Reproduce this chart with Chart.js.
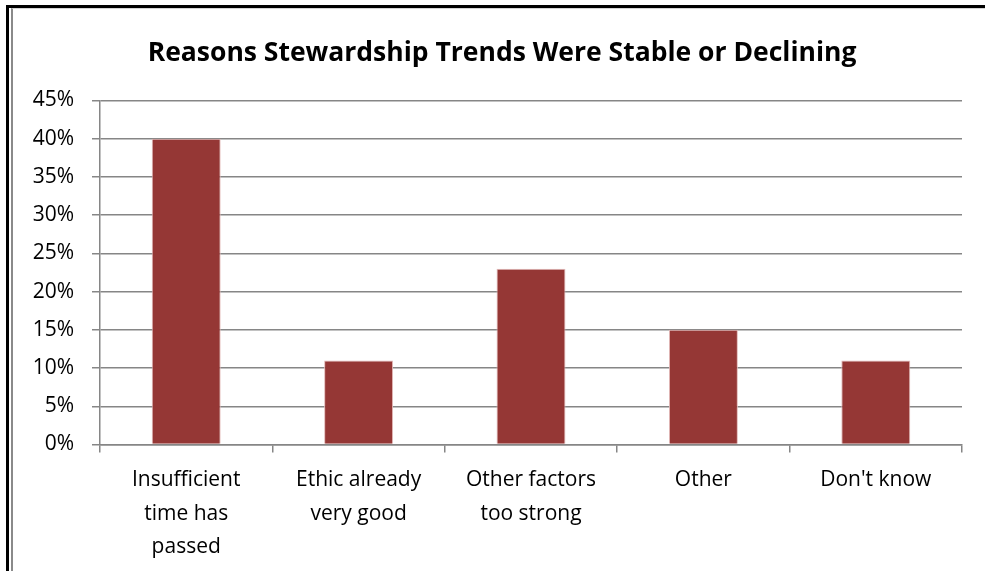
<!DOCTYPE html>
<html>
<head>
<meta charset="utf-8">
<script src="https://cdn.jsdelivr.net/npm/chart.js@4"></script>
<style>
  html, body { margin: 0; padding: 0; background: #fff; }
  body { width: 985px; height: 571px; position: relative; overflow: hidden; }
  /* marco del documento y borde del objeto gráfico */
  .frame { position: absolute; left: 6px; top: 5px; right: 0; bottom: 0;
           border-top: 3px solid #000; border-left: 3px solid #000; }
  .chart-box { position: absolute; left: 11px; top: 8px; right: 0; bottom: 0;
               border-left: 2px solid #8a8a8a; border-top: 1px solid #d4d4d4; }
  #chart { position: absolute; left: 0; top: 0; }
</style>
</head>
<body>
<div class="frame"></div>
<div class="chart-box"></div>
<canvas id="chart" width="985" height="571"></canvas>
<script>
// Motivos de tendencia estable o a la baja (% de respuestas)
const titleText = 'Reasons Stewardship Trends Were Stable or Declining';
const reasons = [
  ['Insufficient', 'time has', 'passed'],
  ['Ethic already', 'very good'],
  ['Other factors', 'too strong'],
  'Other',
  "Don't know",
];
const shares = [40, 11, 23, 15, 11];
const yTicks = [0, 5, 10, 15, 20, 25, 30, 35, 40, 45];

const GRID = '#868686';
const FONT = "'Open Sans', sans-serif";

// El título va centrado en el marco completo, no sobre el área de datos
const frameTitle = {
  id: 'frameTitle',
  afterDraw(chart) {
    const { ctx } = chart;
    ctx.save();
    ctx.font = `bold 26.5px ${FONT}`;
    ctx.fillStyle = '#000';
    ctx.textAlign = 'center';
    ctx.textBaseline = 'middle';
    ctx.fillText(titleText, 502, 53.5);
    ctx.restore();
  },
};

new Chart(document.getElementById('chart'), {
  type: 'bar',
  data: {
    labels: reasons,
    datasets: [{
      data: shares,
      backgroundColor: '#953735',
      borderColor: '#e2b9b8',
      borderWidth: 1,
      barPercentage: 0.4,
      categoryPercentage: 1,
    }],
  },
  plugins: [frameTitle],
  options: {
    responsive: false,
    animation: false,
    layout: { padding: { left: 0, right: 23, top: 100.5, bottom: 0 } },
    plugins: {
      legend: { display: false },
      tooltip: { enabled: false },
    },
    scales: {
      x: {
        offset: true,
        grid: { offset: true, drawOnChartArea: false, color: GRID, tickLength: 8, lineWidth: 1.5 },
        border: { color: GRID, width: 1.5 },
        ticks: { color: '#000', padding: 11, maxRotation: 0, font: { family: FONT, size: 21, lineHeight: 1.6 } },
        afterFit: (s) => { s.height = 126.5; },
      },
      y: {
        min: 0,
        max: 45,
        afterBuildTicks: (s) => { s.ticks = yTicks.map((v) => ({ value: v })); },
        grid: { color: GRID, tickLength: 8, lineWidth: 1.5 },
        border: { color: GRID, width: 1.5 },
        ticks: { color: '#000', padding: 18, callback: (v) => v + '%', font: { family: FONT, size: 21 } },
        afterFit: (s) => { s.width = 100; },
      },
    },
  },
});
</script>
</body>
</html>
